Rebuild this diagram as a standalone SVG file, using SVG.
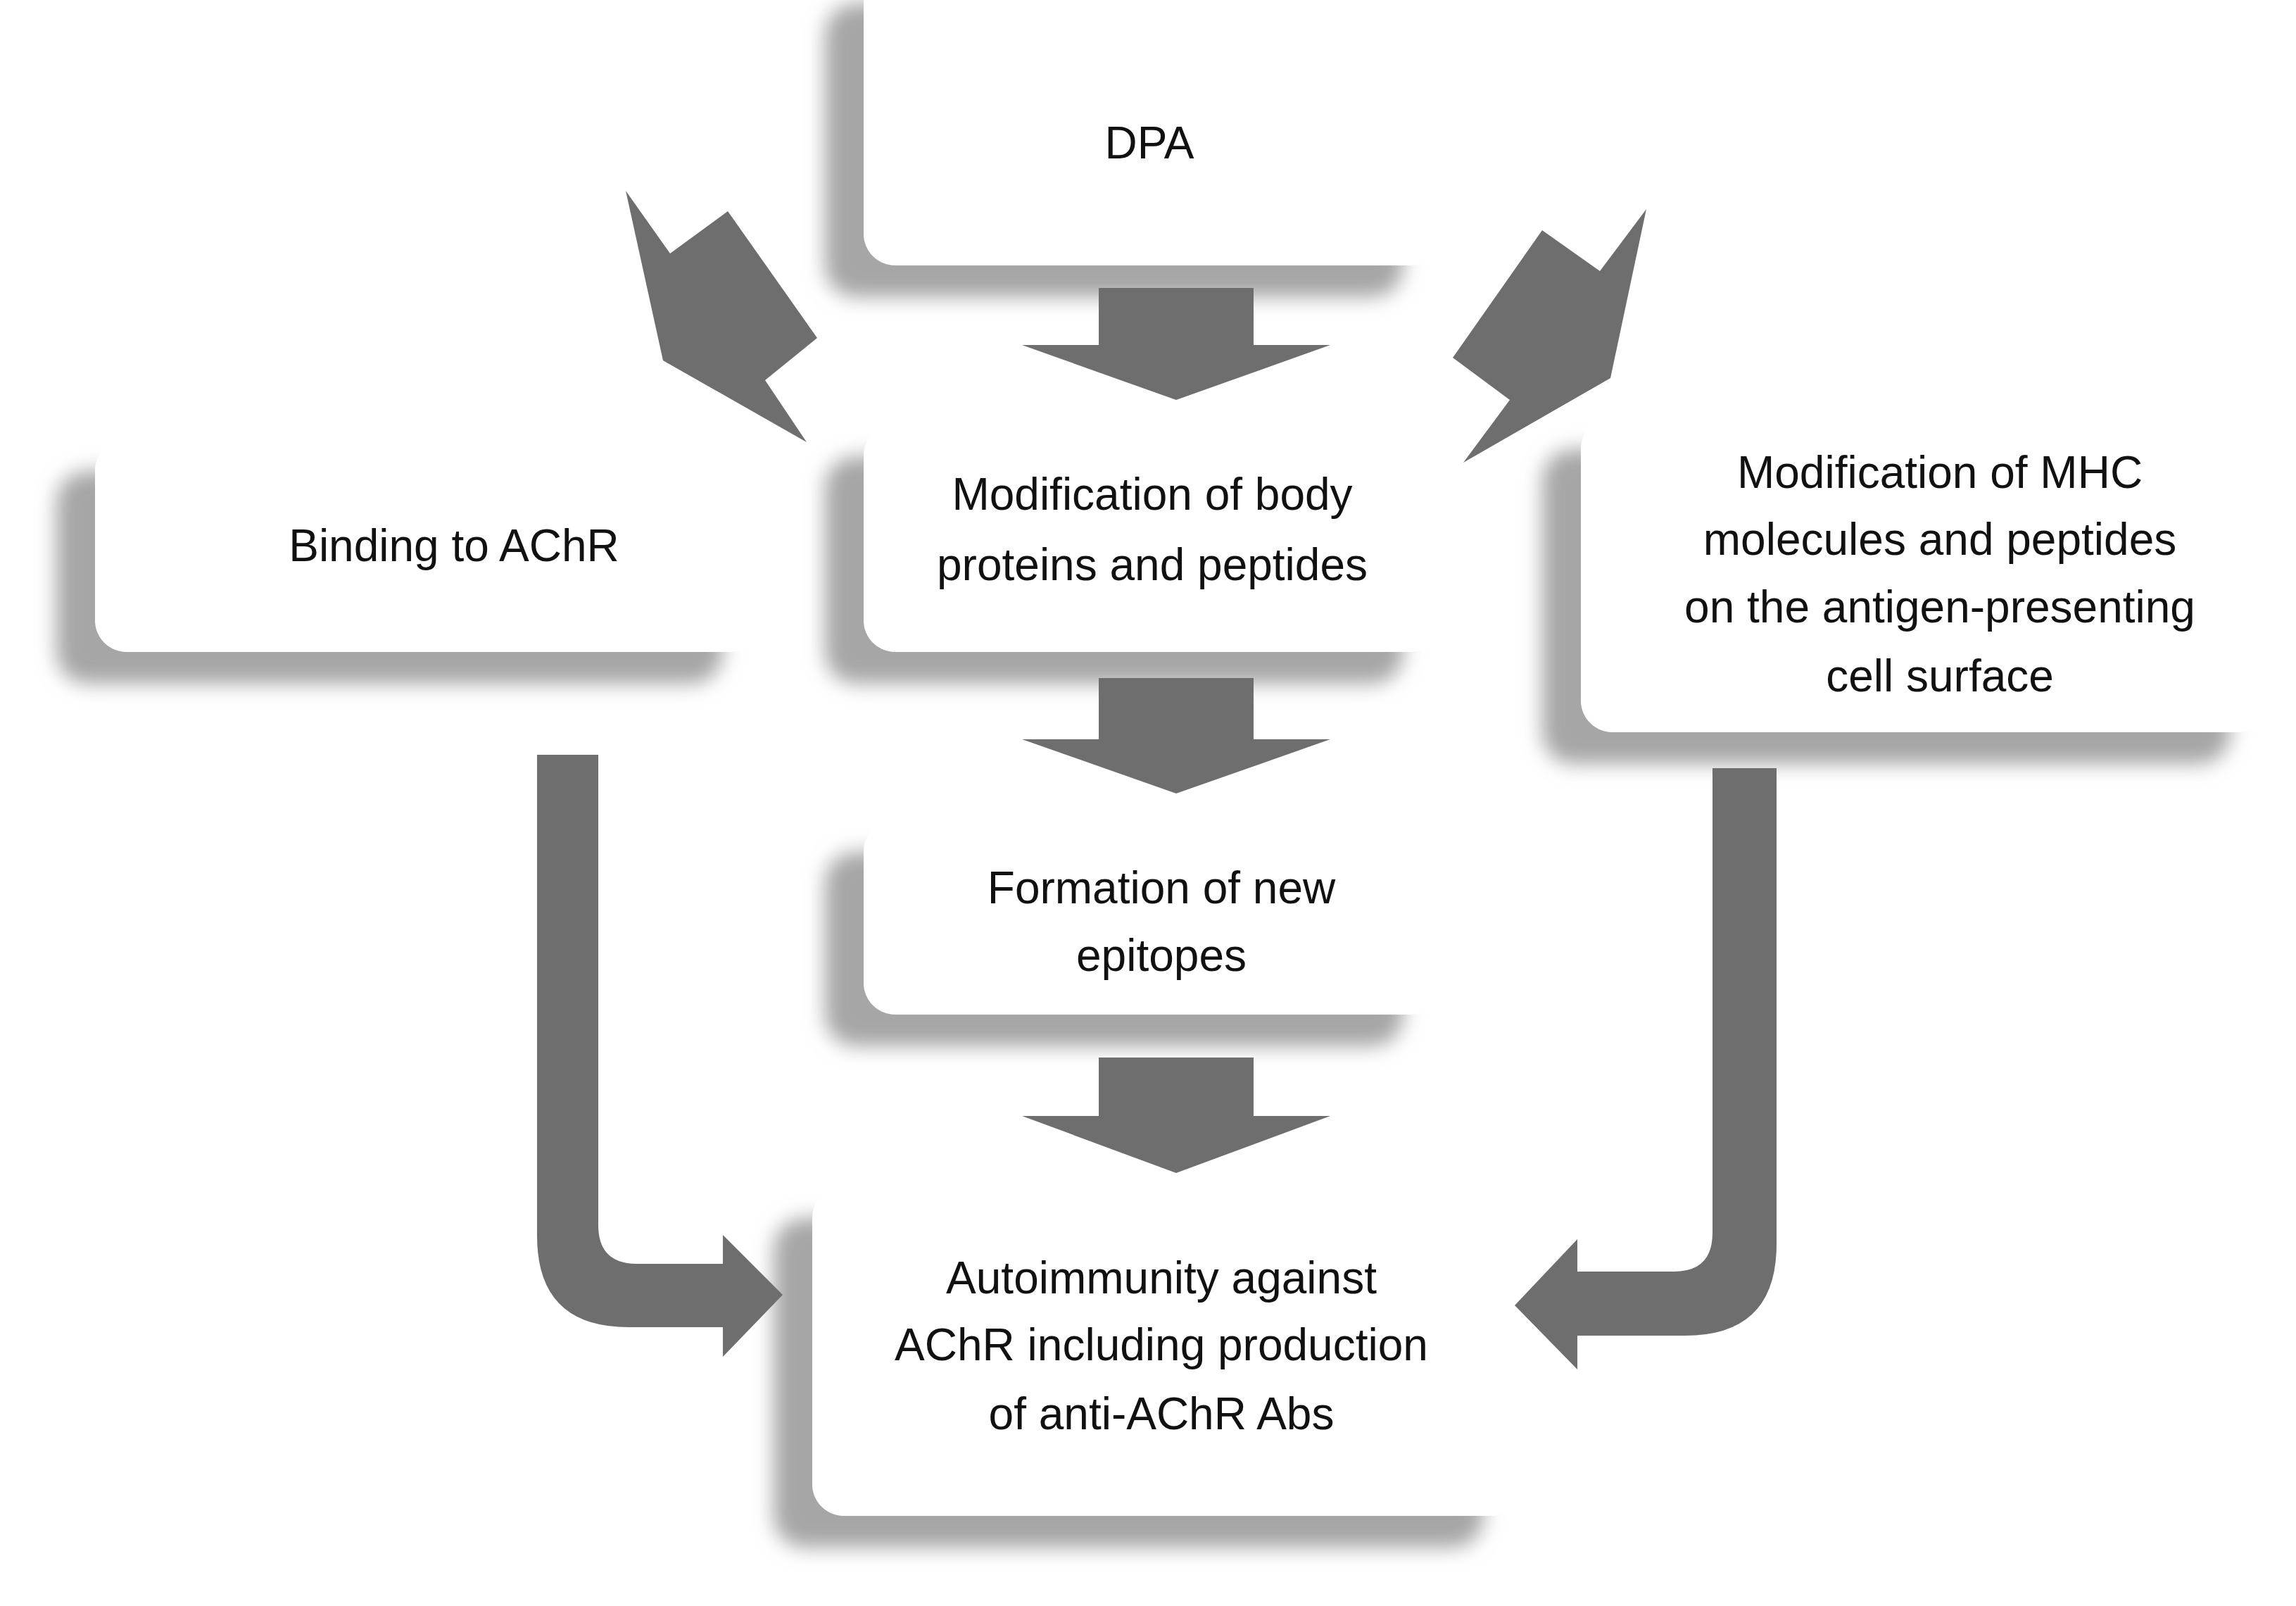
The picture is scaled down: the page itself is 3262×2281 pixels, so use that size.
<svg xmlns="http://www.w3.org/2000/svg" width="3262" height="2281" viewBox="0 0 3262 2281">
<defs>
<filter id="sh" x="-20%" y="-20%" width="140%" height="150%">
<feDropShadow dx="-55" dy="45" stdDeviation="14" flood-color="#888" flood-opacity="0.75"/>
</filter>
</defs>
<style>
.box{fill:#fff;filter:url(#sh)}
.t{font-family:"Liberation Sans",Arial,sans-serif;font-size:64px;fill:#111;text-anchor:middle}
.ar{fill:#6e6e6e}
</style>
<rect width="3262" height="2281" fill="#fff"/>
<g id="dpa"><rect class="box" x="1227" y="-40" width="822" height="417" rx="45"/><text class="t" x="1633" y="225">DPA</text></g>
<g id="binding"><rect class="box" x="135" y="624" width="947" height="302" rx="45"/><text class="t" x="645" y="797">Binding to AChR</text></g>
<g id="body"><rect class="box" x="1227" y="603" width="822" height="323" rx="45"/><text class="t" x="1637" y="724">Modification of body</text><text class="t" x="1637" y="824">proteins and peptides</text></g>
<g id="mhc"><rect class="box" x="2246" y="593" width="978" height="447" rx="45"/><text class="t" x="2756" y="693">Modification of MHC</text><text class="t" x="2756" y="788">molecules and peptides</text><text class="t" x="2756" y="884">on the antigen-presenting</text><text class="t" x="2756" y="982">cell surface</text></g>
<g id="formation"><rect class="box" x="1227" y="1165" width="822" height="276" rx="45"/><text class="t" x="1650" y="1283">Formation of new</text><text class="t" x="1650" y="1379">epitopes</text></g>
<g id="auto"><rect class="box" x="1154" y="1685" width="1009" height="468" rx="45"/><text class="t" x="1650" y="1837">Autoimmunity against</text><text class="t" x="1650" y="1932">AChR including production</text><text class="t" x="1650" y="2030">of anti-AChR Abs</text></g>
<g id="connectors">
<polygon class="ar" points="889,271 952,360 1034,300 1161,480 1087,540 1146,628 942,512"/>
<polygon class="ar" points="2339,297 2273,385 2191,327 2064,508 2145,568 2079,657 2288,537"/>
<polygon class="ar" points="1561,409 1781,409 1781,490 1890,490 1671,568 1452,490 1561,490"/>
<polygon class="ar" points="1561,963 1781,963 1781,1050 1890,1050 1671,1127 1452,1050 1561,1050"/>
<polygon class="ar" points="1561,1502 1781,1502 1781,1585 1890,1585 1671,1666 1452,1585 1561,1585"/>
<path class="ar" d="M763,1072 H850 V1740 Q850,1795 905,1795 H1027 V1754 L1112,1839 L1027,1927 V1885 H893 Q763,1885 763,1755 Z"/>
<path class="ar" d="M2433,1091 H2524 V1767 Q2524,1897 2394,1897 H2241 V1945 L2152,1854 L2241,1760 V1806 H2378 Q2433,1806 2433,1751 Z"/>
</g>
</svg>
